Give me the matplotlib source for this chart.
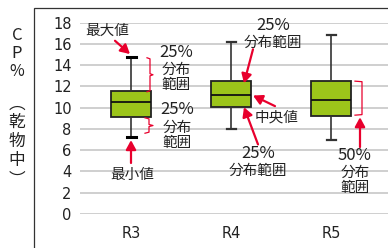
import matplotlib
matplotlib.use("Agg")
import matplotlib.pyplot as plt
from matplotlib.patches import Rectangle

plt.rcParams['font.family'] = ['DejaVu Sans', 'Noto Sans CJK JP']

# data
groups = ['R3', 'R4', 'R5']
whisk_lo = [7.2, 8.0, 7.0]
q1 = [9.1, 10.1, 9.2]
med = [10.5, 11.2, 10.7]
q3 = [11.6, 12.5, 12.5]
whisk_hi = [14.8, 16.2, 16.8]
yticks = [0, 2, 4, 6, 8, 10, 12, 14, 16, 18]

RED = '#e8002d'
GREEN = '#9cc51a'
JPFONT = ['Noto Sans CJK JP', 'DejaVu Sans']

fig = plt.figure(figsize=(3.88, 2.48), dpi=100)
# outer frame (cropped at right / bottom)
fig.patches.append(Rectangle((34 / 388, -0.1), 1.2, 1 - 8 / 248 + 0.1,
                             transform=fig.transFigure, fill=False,
                             edgecolor='#333333', linewidth=0.9))

ax = fig.add_axes([80 / 388, 1 - 214 / 248, 1 - 80 / 388, (214 - 22.7) / 248])

stats = []
for i, g in enumerate(groups):
    stats.append({'label': g, 'whislo': whisk_lo[i], 'q1': q1[i], 'med': med[i],
                  'q3': q3[i], 'whishi': whisk_hi[i], 'fliers': []})

pos = [1, 2, 3]
bp = ax.bxp(stats, positions=pos, widths=0.4, capwidths=0.09, patch_artist=True,
            showfliers=False,
            boxprops=dict(facecolor=GREEN, edgecolor='#222222', linewidth=1.3),
            medianprops=dict(color='#111111', linewidth=1.3),
            whiskerprops=dict(color='#333333', linewidth=1.2),
            capprops=dict(color='#333333', linewidth=1.6))
# R3 caps are drawn darker/thicker
for c in bp['caps'][:2]:
    c.set_color('black')
    c.set_linewidth(2.2)

ax.set_xlim(0.49, 3.57)
ax.set_ylim(0, 18)
ax.set_yticks(yticks)
ax.set_xticks(pos)
ax.set_xticklabels(groups)
ax.yaxis.grid(True, color='#cccccc', linewidth=1.3)
ax.set_axisbelow(True)
for s in ax.spines.values():
    s.set_visible(False)
ax.tick_params(axis='both', length=0, labelsize=10.5, colors='#222222')
ax.tick_params(axis='y', pad=6)
ax.tick_params(axis='x', pad=9)

# vertical y label, one character per row
ylab = [('C', 36, 12), ('P', 54, 12), ('%', 72, 11.5), ('︵', 104, 12),
        ('乾', 122, 12), ('物', 141, 12), ('中', 160, 12), ('︶', 180, 12)]
for ch, py, fs in ylab:
    fig.text(17 / 388, 1 - py / 248, ch, ha='center', va='center',
             fontsize=fs, color='#222222', family=JPFONT)

arr = dict(arrowstyle='-|>,head_length=0.55,head_width=0.3', color=RED,
           lw=1.6, shrinkA=0, shrinkB=0, mutation_scale=10)


def note(lines, x, ys, head=None, tail=None):
    # one text item per line so the "25%" line can be larger
    for s, y in zip(lines, ys):
        fs = 12 if '%' in s else 10.5
        ax.text(x, y, s, fontsize=fs, color='#222222', ha='center',
                va='center', family=JPFONT, clip_on=False)
    if head is not None:
        ax.annotate('', xy=head, xytext=tail, arrowprops=arr,
                    annotation_clip=False)


def curly(x0, x1, ytop, ybot):
    xm = (x0 + x1) / 2
    ym = (ytop + ybot) / 2
    xs = [x0, xm, xm, x1, xm, xm, x0]
    ys = [ytop, ytop - 0.1, ym + 0.1, ym, ym - 0.1, ybot + 0.1, ybot]
    ax.plot(xs, ys, color=RED, lw=0.9, clip_on=False)


def square(x0, x1, ytop, ybot):
    ax.plot([x0, x1, x1, x0], [ytop, ytop - 0.05, ybot + 0.05, ybot],
            color=RED, lw=0.9, clip_on=False)


# R3
note(['最大値'], 0.76, [17.25], (0.99, 15.05), (0.84, 16.3))
curly(1.16, 1.22, whisk_hi[0] - 0.1, q3[0] - 0.1)
note(['25%', '分布', '範囲'], 1.45, [15.2, 13.6, 12.1])
curly(1.14, 1.22, q1[0] - 0.05, whisk_lo[0] + 0.4)
note(['25%', '分布', '範囲'], 1.46, [9.8, 8.15, 6.65])
note(['最小値'], 1.01, [3.65], (1.0, 6.95), (1.0, 4.8))

# R4
note(['25%', '分布範囲'], 2.42, [17.7, 16.15], (2.13, 12.3), (2.22, 15.5))
note(['中央値'], 2.46, [9.05], (2.22, 11.15), (2.44, 10.15))
note(['25%', '分布範囲'], 2.27, [5.7, 4.1], (2.13, 10.05), (2.27, 6.55))

# R5
square(3.24, 3.31, q3[2], q1[2] + 0.1)
note(['50%', '分布', '範囲'], 3.24, [5.5, 3.85, 2.45], (3.29, 9.1), (3.29, 6.3))

fig.savefig('out.png', dpi=100)
